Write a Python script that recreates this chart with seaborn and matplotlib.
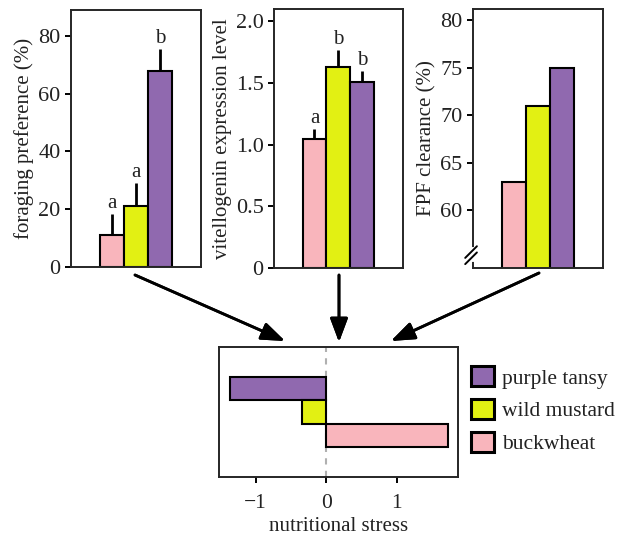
import numpy as np
import pandas as pd
import matplotlib
matplotlib.use("Agg")
import matplotlib.pyplot as plt
import seaborn as sns
from matplotlib.patches import Patch

foods = ["buckwheat", "wild mustard", "purple tansy"]
colors = {"buckwheat": "#F9B5BC", "wild mustard": "#E2F013", "purple tansy": "#9069AF"}

forage = [11.2, 21, 68]
forage_err = [7, 8, 7.5]
forage_letters = ["a", "a", "b"]

vg = [1.05, 1.63, 1.51]
vg_err = [0.08, 0.14, 0.09]
vg_letters = ["a", "b", "b"]

fpf = [63, 71, 75]

stress_order = ["purple tansy", "wild mustard", "buckwheat"]
stress = [-1.36, -0.34, 1.73]

sns.set_theme(style="ticks")
plt.rcParams["font.family"] = ["Liberation Serif", "DejaVu Serif"]
plt.rcParams["axes.linewidth"] = 1.4
plt.rcParams["xtick.major.width"] = 1.4
plt.rcParams["ytick.major.width"] = 1.4
plt.rcParams["xtick.major.size"] = 4
plt.rcParams["ytick.major.size"] = 4
plt.rcParams["xtick.labelsize"] = 15.5
plt.rcParams["ytick.labelsize"] = 16
plt.rcParams["axes.labelsize"] = 15
plt.rcParams["text.color"] = "#222222"
plt.rcParams["axes.labelcolor"] = "#222222"
plt.rcParams["xtick.color"] = "black"
plt.rcParams["ytick.color"] = "black"
plt.rcParams["xtick.labelcolor"] = "#222222"
plt.rcParams["ytick.labelcolor"] = "#222222"

W, H = 619, 539
fig = plt.figure(figsize=(W / 100, H / 100), dpi=100)


def rect(x0, y0, x1, y1):
    return [x0 / W, 1 - y1 / H, (x1 - x0) / W, (y1 - y0) / H]


def bar_panel(box, values, ylabel, ylim, yticks, ticklabels, err=None, letters=None):
    ax = fig.add_axes(rect(*box))
    df = pd.DataFrame({"food": foods, "value": values})
    sns.barplot(data=df, x="food", y="value", hue="food", order=foods,
                palette=colors, saturation=1, legend=False, width=1,
                edgecolor="black", linewidth=1.5, errorbar=None, ax=ax)
    if err is not None:
        ax.errorbar(range(3), values, yerr=[[0, 0, 0], err], fmt="none",
                    ecolor="black", elinewidth=2, capsize=0)
        for i, (v, e, l) in enumerate(zip(values, err, letters)):
            ax.text(i, v + e + (ylim[1] - ylim[0]) * 0.004, l, ha="center",
                    va="bottom", fontsize=15)
    ax.set_xlim(-1.7, 3.72)
    ax.set_ylim(*ylim)
    ax.set_yticks(yticks)
    ax.set_yticklabels(ticklabels)
    ax.set_xticks([])
    ax.set_xlabel("")
    ax.set_ylabel(ylabel, labelpad=3)
    for s in ax.spines.values():
        s.set_visible(True)
    return ax


bar_panel((71, 10, 201, 267), forage, "foraging preference (%)", (0, 89),
          [0, 20, 40, 60, 80], ["0", "20", "40", "60", "80"], forage_err, forage_letters)
bar_panel((274, 9, 403, 268), vg, "vitellogenin expression level", (0, 2.1),
          [0, 0.5, 1.0, 1.5, 2.0], ["0", "0.5", "1.0", "1.5", "2.0"], vg_err, vg_letters)
ax3 = bar_panel((473, 9, 603, 268), fpf, "FPF clearance (%)", (53.9, 81.2),
                [60, 65, 70, 75, 80], ["60", "65", "70", "75", "80"])

# axis break marks on the left spine
ax3.plot([0, 0], [0.03, 0.075], transform=ax3.transAxes, color="white",
         lw=3, clip_on=False, zorder=5)
for dy in (0.0, 0.024):
    ax3.plot([-0.06, 0.03], [0.015 + dy, 0.06 + dy], transform=ax3.transAxes,
             color="black", lw=1.4, clip_on=False, zorder=6)

# bottom panel
ax4 = fig.add_axes(rect(219, 347, 458, 477))
sdf = pd.DataFrame({"food": stress_order, "stress": stress})
sns.barplot(data=sdf, x="stress", y="food", hue="food", order=stress_order,
            palette=colors, saturation=1, legend=False, width=1, edgecolor="black",
            linewidth=1.5, errorbar=None, orient="h", ax=ax4)
ax4.axvline(0, color="#b0b0b0", ls=(0, (3, 3)), lw=1.5, zorder=0)
ax4.set_xlim(-1.52, 1.87)
ax4.set_ylim(3.75, -1.75)
ax4.set_yticks([])
ax4.set_ylabel("")
ax4.set_xticks([-1, 0, 1])
ax4.set_xticklabels(["\u22121", "0", "1"])
ax4.tick_params(axis="x", pad=8)
ax4.set_xlabel("nutritional stress", labelpad=3)
for s in ax4.spines.values():
    s.set_visible(True)

handles = [Patch(facecolor=colors[f], edgecolor="black", linewidth=2.2, label=f)
           for f in stress_order]
fig.legend(handles=handles, loc="upper left", bbox_to_anchor=(471 / W, 1 - 366 / H),
           frameon=False, fontsize=15.5, handlelength=1.08, handleheight=1.08,
           labelspacing=0.48, handletextpad=0.35, borderpad=0, borderaxespad=0)

# arrows
arrows = [((135, 275), (285, 341)), ((339, 275), (339, 342)), ((539, 273), (391, 341))]
for (x0, y0), (x1, y1) in arrows:
    fig.add_artist(plt.annotate("", xy=(x1, H - y1), xytext=(x0, H - y0),
                                xycoords="figure pixels", textcoords="figure pixels",
                                arrowprops=dict(arrowstyle="-|>,head_length=0.8,head_width=0.3",
                                                color="black", lw=2, mutation_scale=18,
                                                shrinkA=0, shrinkB=0)))

fig.savefig("out.png", dpi=100)
